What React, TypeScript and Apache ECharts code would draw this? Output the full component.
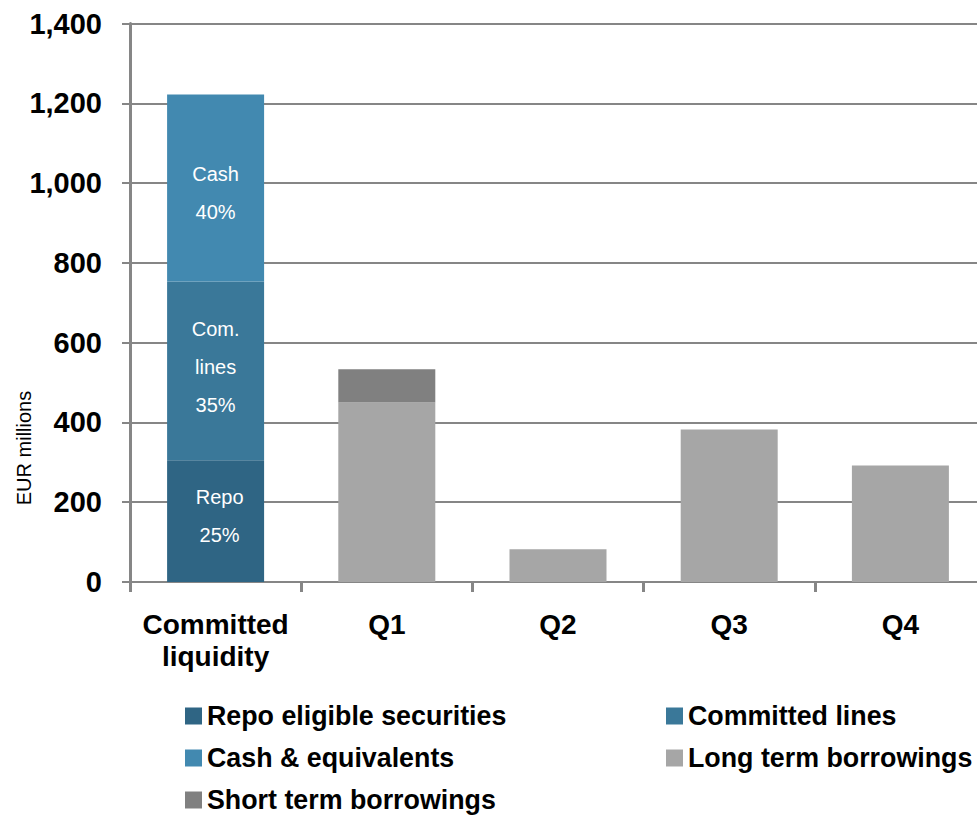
import React, { useEffect, useRef } from "react";
import * as echarts from "echarts";

const categories = ["Committed\nliquidity", "Q1", "Q2", "Q3", "Q4"];
const seriesNames = [
  "Repo eligible securities",
  "Committed lines",
  "Cash & equivalents",
  "Long term borrowings",
  "Short term borrowings",
];
const repoValues = [305, null, null, null, null];
const committedLinesValues = [448, null, null, null, null];
const cashValues = [469, null, null, null, null];
const longTermValues = [null, 450, 82, 382, 292];
const shortTermValues = [null, 83, null, null, null];
const segmentLabels = ["Repo\n25%", "Com.\nlines\n35%", "Cash\n40%"];
const yTicks = { min: 0, max: 1400, interval: 200 };

const colors = ["#2F6584", "#3A7899", "#4289B0", "#A6A6A6", "#808080"];
const font = "Liberation Sans, Arial, sans-serif";

export default function App() {
  const ref = useRef<HTMLDivElement>(null);
  useEffect(() => {
    const chart = echarts.init(ref.current!, null, { renderer: "svg" });
    const seriesData = [repoValues, committedLinesValues, cashValues, longTermValues, shortTermValues];
    const labelOffsets = [[4, -5], [0, -4], [0, 5]];
    const series = seriesData.map((d, i) => ({
      name: seriesNames[i],
      type: "bar",
      stack: "total",
      barWidth: 97,
      data: d,
      itemStyle: { color: colors[i] },
      label:
        i < 3
          ? {
              show: true,
              position: "inside",
              offset: labelOffsets[i],
              formatter: (p: any) => (p.dataIndex === 0 ? segmentLabels[i] : ""),
              color: "#FFFFFF",
              fontSize: 20,
              lineHeight: 38,
              fontFamily: font,
            }
          : { show: false },
    }));
    const legendText = {
      color: "#000000",
      fontSize: 26.8,
      fontWeight: "bold",
      fontFamily: font,
      lineHeight: 28,
    };
    const legendCommon = {
      orient: "vertical",
      top: 702,
      height: 200,
      padding: 0,
      itemWidth: 17,
      itemHeight: 17,
      itemGap: 14,
      icon: "rect",
      textStyle: legendText,
    };
    chart.setOption({
      animation: false,
      grid: { left: 130, top: 23.5, bottom: 233, right: 0, containLabel: false },
      legend: [
        { ...legendCommon, left: 185, data: [seriesNames[0], seriesNames[2], seriesNames[4]] },
        { ...legendCommon, left: 666, data: [seriesNames[1], seriesNames[3]] },
      ],
      xAxis: {
        type: "category",
        data: categories,
        axisLine: { show: true, lineStyle: { color: "#868686", width: 2 } },
        axisTick: { show: true, length: 10, alignWithLabel: false, lineStyle: { color: "#868686", width: 3 } },
        axisLabel: {
          color: "#000000",
          fontSize: 28,
          fontWeight: "bold",
          fontFamily: font,
          lineHeight: 32,
          margin: 26,
          interval: 0,
        },
      },
      yAxis: {
        type: "value",
        min: yTicks.min,
        max: yTicks.max,
        interval: yTicks.interval,
        axisLine: { show: true, lineStyle: { color: "#868686", width: 3 } },
        axisTick: { show: true, length: 8, lineStyle: { color: "#868686", width: 2 } },
        splitLine: { show: true, lineStyle: { color: "#868686", width: 2 } },
        axisLabel: {
          color: "#000000",
          fontSize: 29,
          fontWeight: "bold",
          fontFamily: font,
          margin: 28,
          formatter: (v: number) => v.toLocaleString("en-US"),
        },
      },
      graphic: [
        {
          type: "text",
          x: 24,
          y: 448,
          rotation: Math.PI / 2,
          style: {
            text: "EUR millions",
            fill: "#000000",
            fontSize: 20,
            fontFamily: font,
            textAlign: "center",
            textVerticalAlign: "middle",
          },
        },
      ],
      series,
    });
    return () => chart.dispose();
  }, []);
  return (
    <div
      ref={ref}
      style={{ position: "fixed", left: 0, top: 0, width: 986, height: 815, background: "#FFFFFF" }}
    />
  );
}
